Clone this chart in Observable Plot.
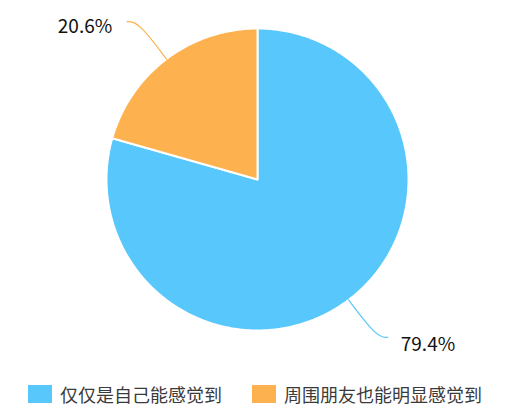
<!DOCTYPE html>
<html>
<head>
<meta charset="utf-8">
<script src="https://cdn.jsdelivr.net/npm/d3@7"></script>
<script src="https://cdn.jsdelivr.net/npm/@observablehq/plot@0.6"></script>
<style>
  html, body { margin: 0; padding: 0; background: #fff; }
  #chart { width: 506px; }
  .legend { display: flex; justify-content: center; align-items: center; height: 48px; box-sizing: border-box; padding-left: 4px;
    font-family: "Noto Sans CJK SC", sans-serif; font-size: 18px; color: #3a3a3a; }
  .item { display: flex; align-items: center; margin: 0 15px; }
  .sw { width: 24px; height: 18px; margin-right: 8px; }
</style>
</head>
<body>
<div id="chart"></div>
<script>
const categories = ["仅仅是自己能感觉到", "周围朋友也能明显感觉到"];
const values = [79.4, 20.6];
const colors = ["#58c7fb", "#fdb14f"];

const data = categories.map((c, i) => ({key: c, value: values[i]}));
const arcs = d3.pie().sort(null).value(d => d.value).startAngle(0).endAngle(2 * Math.PI)(data);

// slice outlines (data units: radius 1)
const slicePts = [];
for (const a of arcs) {
  slicePts.push({key: a.data.key, x: 0, y: 0});
  const n = Math.max(2, Math.ceil((a.endAngle - a.startAngle) / 0.01));
  for (let k = 0; k <= n; k++) {
    const t = a.startAngle + (a.endAngle - a.startAngle) * k / n;
    slicePts.push({key: a.data.key, x: Math.sin(t), y: Math.cos(t)});
  }
  slicePts.push({key: a.data.key, x: 0, y: 0});
}

// leader lines
const R = 151;
const linePts = [];
const labels = [];
for (const a of arcs) {
  const m = (a.startAngle + a.endAngle) / 2;
  const sx = Math.sin(m), sy = Math.cos(m);
  const side = sx >= 0 ? 1 : -1;
  const bx = 1.31 * sx, by = 1.31 * sy;
  const cx = bx + side * 11 / R, cy = by;
  linePts.push({key: a.data.key, x: sx, y: sy});
  linePts.push({key: a.data.key, x: bx, y: by});
  linePts.push({key: a.data.key, x: cx, y: cy});
  labels.push({key: a.data.key, x: cx, y: cy, side, text: a.data.value + "%"});
}

const plot = Plot.plot({
  width: 506,
  height: 370,
  margin: 0,
  x: {domain: [-1, 1], range: [106, 408], axis: null},
  y: {domain: [-1, 1], range: [330, 28], axis: null},
  color: {domain: categories, range: colors},
  style: {background: "#fff"},
  marks: [
    Plot.line(slicePts, {x: "x", y: "y", z: "key", fill: "key", stroke: "#fff", strokeWidth: 2, strokeLinejoin: "round"}),
    Plot.line(linePts, {x: "x", y: "y", z: "key", stroke: "key", strokeWidth: 1.2, curve: "basis"}),
    Plot.text(labels.filter(d => d.side > 0), {x: "x", y: "y", text: "text", textAnchor: "start", dx: 13, dy: 8,
      fontSize: 19, fill: "#111", fontFamily: "Noto Sans CJK SC, sans-serif"}),
    Plot.text(labels.filter(d => d.side < 0), {x: "x", y: "y", text: "text", textAnchor: "end", dx: -15, dy: 5,
      fontSize: 19, fill: "#111", fontFamily: "Noto Sans CJK SC, sans-serif"})
  ]
});
document.getElementById("chart").appendChild(plot);

const legend = document.createElement("div");
legend.className = "legend";
categories.forEach((c, i) => {
  const it = document.createElement("div");
  it.className = "item";
  const sw = document.createElement("div");
  sw.className = "sw";
  sw.style.background = colors[i];
  const tx = document.createElement("span");
  tx.textContent = c;
  it.appendChild(sw); it.appendChild(tx);
  legend.appendChild(it);
});
document.getElementById("chart").appendChild(legend);
</script>
</body>
</html>
